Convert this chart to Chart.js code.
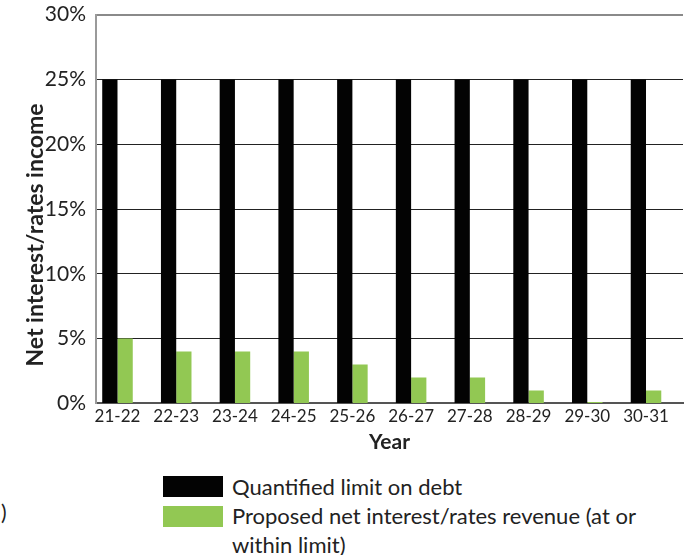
<!DOCTYPE html>
<html>
<head>
<meta charset="UTF-8">
<title>Net interest / rates income</title>
<script src="https://cdn.jsdelivr.net/npm/chart.js@4"></script>
<style>
  body { margin: 0; background: #fff; font-family: Lato, "Open Sans", sans-serif; color: #222; }
  #wrap { position: relative; width: 691px; height: 555px; overflow: hidden; }
  #box { position: absolute; left: 0; top: -8px; width: 691px; height: 467px; }
  .key { position: absolute; left: 163px; width: 60px; height: 21px; }
  .txt { position: absolute; left: 232px; font-size: 22px; line-height: 29px; width: 420px; }
  #stray { position: absolute; left: 1px; top: 499px; font-size: 21px; }
</style>
</head>
<body>
<div id="wrap">
  <div id="box"><canvas id="chart"></canvas></div>
  <div id="stray">)</div>
  <div id="legend"></div>
</div>
<script>
// financial years on the x axis
var years = ['21-22', '22-23', '23-24', '24-25', '25-26', '26-27', '27-28', '28-29', '29-30', '30-31'];
// limit and proposed values, percent
var limitOnDebt = [25, 25, 25, 25, 25, 25, 25, 25, 25, 25];
var proposedRevenue = [5, 4, 4, 4, 3, 2, 2, 1, 0.1, 1];
var yTicks = [0, 5, 10, 15, 20, 25, 30];
var yTitle = 'Net interest/rates income';

var seriesNames = ['Quantified limit on debt', 'Proposed net interest/rates revenue (at or within limit)'];
var seriesColors = ['#030303', '#92c853'];

function points(vals) {
  return vals.map(function (v, i) { return { x: i, y: v }; });
}

// y title sits a little below the middle of the axis, so draw it by hand
var yTitlePlugin = {
  id: 'yTitle',
  afterDraw: function (chart) {
    var c = chart.ctx, a = chart.chartArea;
    c.save();
    c.translate(36, (a.top + a.bottom) / 2 + 26);
    c.rotate(-Math.PI / 2);
    c.font = 'bold 23px Lato';
    c.fillStyle = '#222';
    c.textAlign = 'center';
    c.textBaseline = 'middle';
    c.fillText(yTitle, 0, 0);
    c.restore();
  }
};

var ctx = document.getElementById('chart').getContext('2d');
var chart = new Chart(ctx, {
  type: 'bar',
  data: {
    datasets: [
      { label: seriesNames[0], data: points(limitOnDebt), backgroundColor: seriesColors[0],
        categoryPercentage: 0.52, barPercentage: 1.0 },
      { label: seriesNames[1], data: points(proposedRevenue), backgroundColor: seriesColors[1],
        categoryPercentage: 0.52, barPercentage: 1.0 }
    ]
  },
  plugins: [yTitlePlugin],
  options: {
    responsive: true,
    maintainAspectRatio: false,
    animation: false,
    layout: { padding: { left: 24, right: 8, top: 0, bottom: 0 } },
    plugins: { legend: { display: false }, tooltip: { enabled: false } },
    scales: {
      x: {
        type: 'linear',
        min: -0.366,
        max: 9.63,
        offset: false,
        grid: { display: false, drawTicks: false },
        border: { color: '#555', width: 2 },
        ticks: {
          stepSize: 1,
          includeBounds: false,
          autoSkip: false,
          maxRotation: 0,
          color: '#222',
          font: { family: 'Lato', size: 17 },
          padding: 3,
          callback: function (v) { return Number.isInteger(v) ? years[v] : ''; }
        },
        title: { display: true, text: 'Year', color: '#222',
                 font: { family: 'Lato', size: 21, weight: 'bold' }, padding: { top: 0 } }
      },
      y: {
        min: 0,
        max: 30,
        afterBuildTicks: function (axis) { axis.ticks = yTicks.map(function (v) { return { value: v }; }); },
        afterFit: function (axis) { axis.width = 72; },
        grid: {
          drawTicks: false,
          color: function (c) { return c.tick && c.tick.value === 30 ? '#8a8a8a' : '#222'; },
          lineWidth: function (c) { return c.tick && c.tick.value === 30 ? 2 : 1; }
        },
        border: { color: '#9a9a9a', width: 2 },
        ticks: {
          color: '#222',
          font: { family: 'Lato', size: 21 },
          padding: 10,
          callback: function (v) { return v + '%'; }
        }
      }
    }
  }
});

// legend below the plot
var legend = document.getElementById('legend');
var keyTops = [476, 506];
var textTops = [472, 501];
seriesNames.forEach(function (name, i) {
  var k = document.createElement('div');
  k.className = 'key';
  k.style.top = keyTops[i] + 'px';
  k.style.background = seriesColors[i];
  legend.appendChild(k);
  var t = document.createElement('div');
  t.className = 'txt';
  t.style.top = textTops[i] + 'px';
  t.textContent = name;
  legend.appendChild(t);
});
</script>
</body>
</html>
